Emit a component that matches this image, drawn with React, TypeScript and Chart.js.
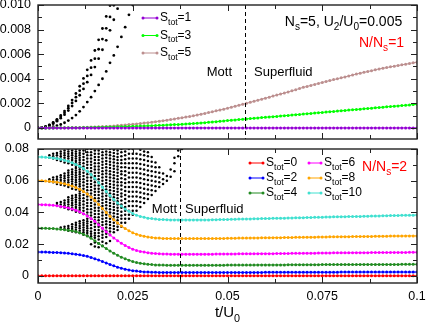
import React, { useEffect, useRef } from 'react';
import { Chart, registerables } from 'chart.js';

Chart.register(...registerables);

const FONT = '"Liberation Sans", Arial, Helvetica, sans-serif';

// x axis: time t/U0 in units of 1e-3 (index of the sample), y values in units of 1e-3
const X_TICKS = [0, 25, 50, 75, 100];
const X_LABELS = ['0', '0.025', '0.05', '0.075', '0.1'];
const TOP_Y_TICKS = [0, 2, 4, 6, 8, 10];
const TOP_Y_LABELS = ['0', '0.002', '0.004', '0.006', '0.008', '0.010'];
const BOT_Y_TICKS = [0, 20, 40, 60, 80];
const BOT_Y_LABELS = ['0', '0.02', '0.04', '0.06', '0.08'];
const TOP_Y_RANGE = [-0.9, 10];
const BOT_Y_RANGE = [-4.5, 80];
const TOP_BOUNDARY = 54.6;
const BOT_BOUNDARY = 37.5;

// ---------- top panel (N/Ns = 1) ----------
const TOP_LABELS = ['S_{tot}=1', 'S_{tot}=3', 'S_{tot}=5'];
const TOP_COLORS = ['#9400d3', '#00ff00', '#bc8f8f'];

const TOP_S1 = [
  0, 0, 0, 0, 0, 0, 0, 0, 0, 0,
  0, 0, 0, 0, 0, 0, 0, 0, 0, 0,
  0, 0, 0, 0, 0, 0, 0, 0, 0, 0,
  0, 0, 0, 0, 0, 0, 0, 0, 0, 0,
  0, 0, 0, 0, 0, 0, 0, 0, 0, 0,
  0, 0, 0, 0, 0, 0, 0, 0, 0, 0,
  0, 0, 0, 0, 0, 0, 0, 0, 0, 0,
  0, 0, 0, 0, 0, 0, 0, 0, 0, 0,
  0, 0, 0, 0, 0, 0, 0, 0, 0, 0,
  0, 0, 0, 0, 0, 0, 0, 0, 0, 0,
  0,
];
const TOP_S3 = [
  0, 0, 0, 0, 0, 0.01, 0.01, 0.01, 0.01, 0.02,
  0.02, 0.02, 0.03, 0.03, 0.04, 0.05, 0.05, 0.06, 0.07, 0.07,
  0.08, 0.09, 0.10, 0.11, 0.12, 0.13, 0.14, 0.15, 0.16, 0.17,
  0.18, 0.20, 0.21, 0.22, 0.24, 0.25, 0.27, 0.28, 0.30, 0.32,
  0.34, 0.36, 0.38, 0.41, 0.43, 0.46, 0.49, 0.51, 0.54, 0.57,
  0.60, 0.63, 0.65, 0.68, 0.71, 0.73, 0.76, 0.79, 0.81, 0.84,
  0.87, 0.89, 0.92, 0.94, 0.97, 1.00, 1.02, 1.05, 1.08, 1.10,
  1.13, 1.16, 1.18, 1.21, 1.24, 1.26, 1.29, 1.32, 1.34, 1.37,
  1.40, 1.42, 1.45, 1.48, 1.50, 1.53, 1.56, 1.58, 1.61, 1.64,
  1.66, 1.69, 1.72, 1.74, 1.77, 1.79, 1.82, 1.85, 1.87, 1.90,
  1.93,
];
const TOP_S5 = [
  0, 0, 0, 0.01, 0.01, 0.01, 0.01, 0.02, 0.02, 0.03,
  0.03, 0.04, 0.05, 0.06, 0.07, 0.08, 0.09, 0.11, 0.12, 0.14,
  0.16, 0.19, 0.21, 0.24, 0.27, 0.30, 0.33, 0.36, 0.40, 0.43,
  0.47, 0.51, 0.55, 0.59, 0.63, 0.68, 0.73, 0.78, 0.83, 0.88,
  0.93, 0.99, 1.05, 1.12, 1.18, 1.25, 1.32, 1.39, 1.46, 1.53,
  1.60, 1.68, 1.76, 1.84, 1.92, 2.00, 2.08, 2.17, 2.25, 2.34,
  2.42, 2.50, 2.59, 2.67, 2.76, 2.84, 2.93, 3.02, 3.11, 3.21,
  3.30, 3.38, 3.46, 3.54, 3.62, 3.70, 3.78, 3.85, 3.93, 4.00,
  4.08, 4.15, 4.23, 4.30, 4.38, 4.45, 4.52, 4.59, 4.66, 4.73,
  4.80, 4.86, 4.91, 4.97, 5.02, 5.08, 5.13, 5.19, 5.24, 5.30,
  5.35,
];
const TOP_BLACK_1 = [0, 0.03, 0.11, 0.25, 0.45, 0.70, 1.01, 1.37, 1.79, 2.27, 2.80, 3.39, 4.03, 4.73, 5.49, 6.30, 7.17, 8.09, 9.07, 9.95];
const TOP_BLACK_2 = [0, 0.03, 0.10, 0.23, 0.40, 0.63, 0.90, 1.23, 1.60, 2.03, 2.50, 3.03, 3.60, 4.23, 4.90, 5.63, 6.40, 7.23, 8.10, 9.03, 9.98];
const TOP_BLACK_3 = [0, 0.02, 0.09, 0.20, 0.35, 0.55, 0.79, 1.08, 1.41, 1.78, 2.20, 2.66, 3.17, 3.72, 4.31, 4.95, 5.63, 6.36, 7.13, 7.94, 8.80, 9.70];
const TOP_BLACK_4 = [0, 0.005, 0.02, 0.05, 0.10, 0.18, 0.28, 0.42, 0.60, 0.80, 1.05, 1.35, 1.70, 2.10, 2.50, 3.00, 3.50, 4.00, 4.60, 5.30, 5.90, 6.60, 7.40, 8.20, 9.20, 10.0];

// ---------- bottom panel (N/Ns = 2) ----------
const BOT_LABELS = ['S_{tot}=0', 'S_{tot}=2', 'S_{tot}=4', 'S_{tot}=6', 'S_{tot}=8', 'S_{tot}=10'];
const BOT_COLORS = ['#ff0000', '#0000ff', '#228b22', '#ff00ff', '#ffa500', '#40e0d0'];

const BOT_S0 = [
  0, 0, 0, 0, 0, 0, 0, 0, 0, 0,
  0, 0, 0, 0, 0, 0, 0, 0, 0, 0,
  0, 0, 0, 0, 0, 0, 0, 0, 0, 0,
  0, 0, 0, 0, 0, 0, 0, 0, 0, 0,
  0, 0, 0, 0, 0, 0, 0, 0, 0, 0,
  0, 0, 0, 0, 0, 0, 0, 0, 0, 0,
  0, 0, 0, 0, 0, 0, 0, 0, 0, 0,
  0, 0, 0, 0, 0, 0, 0, 0, 0, 0,
  0, 0, 0, 0, 0, 0, 0, 0, 0, 0,
  0, 0, 0, 0, 0, 0, 0, 0, 0, 0,
  0,
];
const BOT_S2 = [
  15, 15, 15, 14.9, 14.8, 14.7, 14.6, 14.4, 14.2, 13.9,
  13.6, 13.3, 12.8, 12.3, 11.6, 10.8, 10.0, 9.1, 8.1, 7.2,
  6.3, 5.5, 4.8, 4.2, 3.7, 3.3, 3.0, 2.7, 2.5, 2.4,
  2.3, 2.3, 2.2, 2.2, 2.2, 2.2, 2.2, 2.2, 2.2, 2.2,
  2.2, 2.2, 2.2, 2.2, 2.2, 2.2, 2.2, 2.2, 2.2, 2.2,
  2.2, 2.2, 2.2, 2.2, 2.2, 2.2, 2.2, 2.2, 2.2, 2.2,
  2.3, 2.3, 2.3, 2.3, 2.3, 2.3, 2.3, 2.3, 2.3, 2.3,
  2.3, 2.3, 2.3, 2.3, 2.3, 2.3, 2.3, 2.3, 2.3, 2.3,
  2.4, 2.4, 2.4, 2.4, 2.4, 2.4, 2.4, 2.4, 2.4, 2.4,
  2.4, 2.4, 2.4, 2.4, 2.4, 2.4, 2.4, 2.4, 2.4, 2.4,
  2.4,
];
const BOT_S4 = [
  30, 30, 30, 29.9, 29.8, 29.6, 29.4, 29.1, 28.8, 28.4,
  27.9, 27.2, 26.3, 25.1, 23.7, 22.1, 20.4, 18.8, 17.2, 15.7,
  14.3, 13.0, 11.8, 10.8, 9.9, 9.0, 8.4, 7.9, 7.6, 7.3,
  7.1, 6.9, 6.8, 6.8, 6.7, 6.7, 6.7, 6.7, 6.7, 6.7,
  6.7, 6.7, 6.7, 6.7, 6.7, 6.7, 6.7, 6.7, 6.7, 6.7,
  6.8, 6.8, 6.8, 6.8, 6.8, 6.8, 6.8, 6.8, 6.9, 6.9,
  6.9, 6.9, 6.9, 6.9, 6.9, 6.9, 7.0, 7.0, 7.0, 7.0,
  7.0, 7.0, 7.0, 7.0, 7.0, 7.1, 7.1, 7.1, 7.1, 7.1,
  7.1, 7.1, 7.1, 7.1, 7.1, 7.2, 7.2, 7.2, 7.2, 7.2,
  7.2, 7.2, 7.2, 7.2, 7.2, 7.2, 7.3, 7.3, 7.3, 7.3,
  7.3,
];
const BOT_S6 = [
  45, 44.9, 44.8, 44.7, 44.5, 44.2, 43.8, 43.4, 42.8, 42.1,
  41.3, 40.4, 39.2, 37.8, 36.2, 34.4, 32.2, 30.0, 27.8, 25.8,
  23.9, 22.2, 20.6, 19.2, 17.9, 16.8, 16.0, 15.4, 15.0, 14.6,
  14.3, 14.1, 13.9, 13.8, 13.8, 13.7, 13.7, 13.7, 13.7, 13.7,
  13.7, 13.7, 13.7, 13.7, 13.7, 13.7, 13.7, 13.8, 13.8, 13.8,
  13.8, 13.8, 13.8, 13.9, 13.9, 13.9, 13.9, 13.9, 14.0, 14.0,
  14.0, 14.0, 14.0, 14.1, 14.1, 14.1, 14.1, 14.2, 14.2, 14.2,
  14.3, 14.3, 14.3, 14.3, 14.4, 14.4, 14.4, 14.4, 14.5, 14.5,
  14.5, 14.5, 14.5, 14.6, 14.6, 14.6, 14.6, 14.6, 14.7, 14.7,
  14.7, 14.7, 14.7, 14.8, 14.8, 14.8, 14.8, 14.8, 14.9, 14.9,
  14.9,
];
const BOT_S8 = [
  60, 59.9, 59.8, 59.6, 59.4, 59.1, 58.6, 58.1, 57.4, 56.6,
  55.7, 54.6, 53.2, 51.6, 49.8, 47.6, 45.0, 42.5, 39.9, 37.6,
  35.4, 33.4, 31.5, 29.9, 28.4, 27.2, 26.2, 25.5, 25.0, 24.5,
  24.2, 23.9, 23.8, 23.6, 23.6, 23.5, 23.5, 23.5, 23.5, 23.5,
  23.5, 23.5, 23.5, 23.5, 23.5, 23.5, 23.5, 23.6, 23.6, 23.6,
  23.7, 23.7, 23.7, 23.8, 23.8, 23.8, 23.9, 23.9, 23.9, 24.0,
  24.0, 24.0, 24.1, 24.1, 24.1, 24.2, 24.2, 24.2, 24.3, 24.3,
  24.3, 24.4, 24.4, 24.4, 24.5, 24.5, 24.5, 24.6, 24.6, 24.6,
  24.7, 24.7, 24.7, 24.8, 24.8, 24.8, 24.9, 24.9, 24.9, 25.0,
  25.0, 25.0, 25.0, 25.1, 25.1, 25.1, 25.1, 25.2, 25.2, 25.2,
  25.2,
];
const BOT_S10 = [
  75, 74.9, 74.8, 74.6, 74.4, 74.0, 73.5, 72.9, 72.2, 71.3,
  70.3, 69.1, 67.7, 65.9, 63.9, 61.5, 58.7, 55.9, 53.2, 50.6,
  48.2, 46.0, 44.0, 42.2, 40.7, 39.3, 38.3, 37.5, 36.9, 36.4,
  36.1, 35.8, 35.6, 35.5, 35.4, 35.3, 35.3, 35.3, 35.3, 35.3,
  35.3, 35.3, 35.3, 35.3, 35.3, 35.3, 35.4, 35.4, 35.5, 35.5,
  35.6, 35.7, 35.7, 35.8, 35.8, 35.9, 35.9, 36.0, 36.0, 36.1,
  36.1, 36.2, 36.3, 36.3, 36.4, 36.4, 36.5, 36.5, 36.6, 36.6,
  36.7, 36.8, 36.8, 36.9, 36.9, 37.0, 37.1, 37.1, 37.2, 37.2,
  37.3, 37.3, 37.4, 37.4, 37.5, 37.5, 37.6, 37.6, 37.7, 37.7,
  37.8, 37.9, 37.9, 38.0, 38.0, 38.1, 38.2, 38.2, 38.3, 38.3,
  38.4,
];

// black points of the bottom panel, listed column by column: [time index, values]
const BOT_BLACK_COLS: [number, number[]][] = [
  [3, [74.5, 76, 59.5, 61]],
  [4, [74, 75.5, 77, 59, 60.5, 62]],
  [5, [73, 74.5, 76, 77.5, 58, 59.5, 61, 62.5, 44.5, 46]],
  [6, [72.5, 74, 75.5, 77, 78.5, 57.5, 59, 60.5, 62, 63.5, 43.5, 45, 46.5, 30.5]],
  [7, [71.5, 73, 74.5, 76, 77.5, 79, 57, 58.5, 60, 61.5, 63, 64.5, 43, 44.5, 46, 47.5, 29.5, 31]],
  [8, [71, 72.5, 74, 75.5, 77, 78.5, 80, 56, 57.5, 59, 60.5, 62, 63.5, 65, 66.5, 42, 43.5, 45, 46.5, 48, 49.5, 28.5, 30, 31.5]],
  [9, [70, 71.5, 73, 74.5, 76, 77.5, 79, 55, 56.5, 58, 59.5, 61, 62.5, 64, 65.5, 67, 41.5, 43, 44.5, 46, 47.5, 49, 50.5, 28, 29.5, 31, 32.5]],
  [10, [69.5, 71, 72.5, 74, 75.5, 77, 78.5, 80, 54.5, 56, 57.5, 59, 60.5, 62, 63.5, 65, 66.5, 68, 40.5, 42, 43.5, 45, 46.5, 48, 49.5, 51, 27.5, 29, 30.5, 32, 33.5]],
  [11, [53.5, 55, 56.5, 58, 59.5, 61, 62.5, 64, 65.5, 67, 68.5, 70, 71.5, 73, 74.5, 76, 77.5, 79, 40, 41.5, 43, 44.5, 46, 47.5, 49, 50.5, 52, 27, 28.5, 30, 31.5, 33, 34.5]],
  [12, [39, 41, 43, 45, 47, 49, 51, 53, 55, 57, 59, 61, 63, 65, 67, 69, 71, 73, 75, 77, 79, 26, 27.5, 29, 30.5, 32, 33.5, 35]],
  [13, [25.5, 27, 28.5, 30, 31.5, 33, 34.5, 36, 38, 40, 42, 44, 46, 48, 50, 52, 54, 56, 58, 60, 62, 64, 66, 68, 70, 72, 74, 76, 78, 80]],
  [14, [20, 25, 26.5, 28, 30, 32, 34, 36, 38, 40, 42, 44, 46, 48, 50, 52, 54, 56, 58, 60, 62, 64, 66, 68, 70, 72, 74, 76, 78, 80]],
  [15, [18.5, 21, 24, 25.5, 27, 29, 31, 33, 35, 37, 39, 41, 43, 45, 47, 49, 51, 53, 55, 57, 59, 61, 63, 65, 67, 69, 71, 73, 75, 77, 79]],
  [16, [18, 20.5, 23, 25, 27, 29, 31, 33, 35, 37, 39, 41, 43, 45, 47, 49, 51, 53, 55, 57, 59, 61, 63, 65, 67, 69, 71, 73, 75, 77, 79]],
  [17, [19, 21.5, 24, 26, 28, 30, 32, 34, 36, 38, 40, 42, 44, 46, 48, 50, 52, 54, 56, 58, 60, 62, 64, 66, 68, 70, 72, 74, 76, 78, 80]],
  [18, [20.5, 24.5, 26.5, 28.5, 30.5, 32.5, 34.5, 36.5, 38.5, 40.5, 42.5, 44.5, 46.5, 48.5, 50.5, 52.5, 54.5, 56.5, 58.5, 60.5, 62.5, 64.5, 66.5, 68.5, 70.5, 72.5, 74.5, 76.5, 78.5]],
  [19, [22, 26, 28, 30, 32, 34, 36, 38, 40, 42, 44, 46, 48, 50, 52, 54, 56, 58, 60, 62, 64, 66, 68, 70, 72, 74, 76, 78, 80]],
  [20, [27.5, 29.5, 31.5, 33.5, 35.5, 37.5, 39.5, 41.5, 43.5, 45.5, 47.5, 49.5, 51.5, 53.5, 55.5, 57.5, 59.5, 61.5, 63.5, 65.5, 67.5, 69.5, 71.5, 73.5, 75.5, 77.5, 79.5]],
  [21, [29, 31, 33, 35, 37, 39, 41, 43, 45, 47, 49, 51, 53, 55, 57, 59, 61, 63, 65, 67, 69, 71, 73, 75, 77, 79]],
  [22, [31, 33.5, 36, 38, 40.5, 43, 45, 47.5, 50, 52, 54.5, 57, 59, 61.5, 64, 66, 68.5, 71, 73, 75.5, 78, 80]],
  [23, [33.5, 36, 38.5, 41, 43.5, 46, 48.5, 51, 53.5, 56, 58.5, 61, 63.5, 66, 68.5, 71, 73.5, 76, 78.5]],
  [24, [36, 38.5, 41, 44, 47, 50, 53, 56, 59, 62, 65, 68, 71, 74, 77, 80]],
  [25, [38.5, 41, 44, 47, 50, 53, 56, 59, 62, 65, 68, 71, 74, 77, 80]],
  [26, [41, 44, 47, 50, 53, 56, 59, 62, 65, 68, 71, 74, 77]],
  [27, [43.5, 46.5, 49.5, 52.5, 55.5, 58.5, 61.5, 64.5, 67.5, 70.5, 73.5, 76.5, 79.5]],
  [28, [46, 49, 52, 55, 58, 61, 64, 67, 70, 73, 76, 78.5]],
  [29, [48.5, 51.5, 54.5, 57.5, 60.5, 63.5, 66.5, 69.5, 72.5, 75.5, 78]],
  [30, [51, 54, 57, 60, 63, 66, 69, 72, 75]],
  [31, [53.5, 56.5, 59.5, 62.5, 65.5, 68.5, 71.5]],
  [32, [56, 59, 62, 65, 68.5]],
  [33, [58, 61, 64.5]],
  [34, [60, 63]],
  [35, [62.5, 67]],
  [36, [66, 71, 74.5]],
  [37, [75.5, 79]],
  [38, [80]],
];

type Pt = { x: number; y: number };
const toPts = (vals: number[]): Pt[] => vals.map((v, i) => ({ x: i, y: v }));

type Part = { t: string; sub: boolean };
function parseRich(s: string): Part[] {
  const parts: Part[] = [];
  const re = /_\{([^}]*)\}/g;
  let last = 0;
  let m: RegExpExecArray | null;
  while ((m = re.exec(s))) {
    if (m.index > last) parts.push({ t: s.slice(last, m.index), sub: false });
    parts.push({ t: m[1], sub: true });
    last = m.index + m[0].length;
  }
  if (last < s.length) parts.push({ t: s.slice(last), sub: false });
  return parts;
}
function drawRich(ctx: CanvasRenderingContext2D, s: string, x: number, y: number, size: number, color: string, align: 'left' | 'right' | 'center') {
  const parts = parseRich(s);
  const sub = size * 0.72;
  const f = (p: Part) => `${p.sub ? sub : size}px ${FONT}`;
  let w = 0;
  for (const p of parts) {
    ctx.font = f(p);
    w += ctx.measureText(p.t).width;
  }
  let cx = align === 'left' ? x : align === 'right' ? x - w : x - w / 2;
  ctx.fillStyle = color;
  ctx.textBaseline = 'middle';
  ctx.textAlign = 'left';
  for (const p of parts) {
    ctx.font = f(p);
    ctx.fillText(p.t, cx, p.sub ? y + size * 0.38 : y);
    cx += ctx.measureText(p.t).width;
  }
}

type Txt = { text: string; x: number; y: number; align: 'left' | 'right' | 'center'; color: string; size: number };
type Leg = { label: string; color: string; x0: number; x1: number; y: number };

function makeDecor(cfg: { yTicks: number[]; boundary: number; texts: Txt[]; legend: Leg[]; xTitle: boolean }) {
  return {
    id: 'decor',
    afterDatasetsDraw(chart: any) {
      const { ctx, chartArea: a, scales } = chart;
      const xs = scales.x;
      const ys = scales.y;
      ctx.save();
      // phase boundary
      const bx = Math.round(xs.getPixelForValue(cfg.boundary)) + 0.5;
      ctx.beginPath();
      ctx.setLineDash([4, 3]);
      ctx.strokeStyle = '#000';
      ctx.lineWidth = 1;
      ctx.moveTo(bx, a.top);
      ctx.lineTo(bx, a.bottom);
      ctx.stroke();
      ctx.setLineDash([]);
      // inward ticks on all sides
      ctx.strokeStyle = '#222';
      ctx.lineWidth = 1;
      const seg = (x0: number, y0: number, x1: number, y1: number) => {
        ctx.beginPath();
        ctx.moveTo(x0, y0);
        ctx.lineTo(x1, y1);
        ctx.stroke();
      };
      const xTick = (v: number, len: number) => {
        const p = Math.round(xs.getPixelForValue(v)) + 0.5;
        seg(p, a.bottom, p, a.bottom - len);
        seg(p, a.top, p, a.top + len);
      };
      const yTick = (v: number, len: number) => {
        const p = Math.round(ys.getPixelForValue(v)) + 0.5;
        seg(a.left, p, a.left + len, p);
        seg(a.right, p, a.right - len, p);
      };
      X_TICKS.forEach((v, k) => {
        xTick(v, 6);
        if (k < X_TICKS.length - 1) xTick((v + X_TICKS[k + 1]) / 2, 4);
      });
      cfg.yTicks.forEach((v, k) => {
        yTick(v, 6);
        if (k < cfg.yTicks.length - 1) yTick((v + cfg.yTicks[k + 1]) / 2, 4);
      });
      // frame
      ctx.strokeStyle = '#222';
      ctx.lineWidth = 1.4;
      ctx.strokeRect(a.left, a.top, a.right - a.left, a.bottom - a.top);
      // annotations
      for (const t of cfg.texts) {
        drawRich(ctx, t.text, xs.getPixelForValue(t.x), ys.getPixelForValue(t.y), t.size, t.color, t.align);
      }
      // legend
      for (const l of cfg.legend) {
        ctx.strokeStyle = l.color;
        ctx.fillStyle = l.color;
        ctx.lineWidth = 1;
        seg(l.x0, l.y, l.x1, l.y);
        for (const px of [l.x0, l.x1]) {
          ctx.beginPath();
          ctx.arc(px, l.y, 1.5, 0, Math.PI * 2);
          ctx.fill();
        }
        drawRich(ctx, l.label, l.x1 + 3, l.y, 12, '#000', 'left');
      }
      if (cfg.xTitle) {
        drawRich(ctx, 't/U_{0}', (a.left + a.right) / 2, 313, 15, '#000', 'center');
      }
      ctx.restore();
    },
  };
}

function lineDs(label: string, vals: number[], color: string) {
  return {
    label,
    data: toPts(vals),
    showLine: true,
    borderColor: color,
    backgroundColor: color,
    borderWidth: 1,
    pointRadius: 1.5,
    pointBorderWidth: 0,
    pointBackgroundColor: color,
    order: 0,
  };
}
function dotDs(label: string, pts: Pt[], r: number) {
  return {
    label,
    data: pts,
    showLine: false,
    borderColor: '#000',
    backgroundColor: '#000',
    pointRadius: r,
    pointBorderWidth: 0,
    pointBackgroundColor: '#000',
    order: 1,
  };
}

function yScale(range: number[], ticks: number[], labels: string[], pad: number) {
  return {
    type: 'linear',
    min: range[0],
    max: range[1],
    grid: { display: false, drawTicks: false },
    border: { display: false },
    ticks: {
      font: { family: FONT, size: 12.5 },
      color: '#000',
      padding: pad,
      callback: (_v: any, i: number) => labels[i],
    },
    afterBuildTicks: (s: any) => {
      s.ticks = ticks.map((v) => ({ value: v }));
    },
    afterFit: (s: any) => {
      s.width = 38;
      s.paddingTop = 0;
      s.paddingBottom = 0;
    },
  };
}

function topConfig(): any {
  const datasets = [
    ...[TOP_S1, TOP_S3, TOP_S5].map((v, k) => lineDs(TOP_LABELS[k], v, TOP_COLORS[k])),
    ...[TOP_BLACK_1, TOP_BLACK_2, TOP_BLACK_3, TOP_BLACK_4].map((v, k) => dotDs('other ' + k, toPts(v), 1.4)),
  ];
  const decor = makeDecor({
    yTicks: TOP_Y_TICKS,
    boundary: TOP_BOUNDARY,
    texts: [
      { text: 'Mott', x: 51.2, y: 4.5, align: 'right', color: '#000', size: 13 },
      { text: 'Superfluid', x: 57, y: 4.5, align: 'left', color: '#000', size: 13 },
      { text: 'N_{s}=5, U_{2}/U_{0}=0.005', x: 96.1, y: 8.6, align: 'right', color: '#000', size: 14 },
      { text: 'N/N_{s}=1', x: 96.6, y: 6.9, align: 'right', color: '#ff0000', size: 14 },
    ],
    legend: TOP_LABELS.map((label, k) => ({ label, color: TOP_COLORS[k], x0: 143, x1: 157, y: 18 + k * 17.5 })),
    xTitle: false,
  });
  return {
    type: 'scatter',
    data: { datasets },
    options: {
      animation: false,
      responsive: false,
      devicePixelRatio: 1,
      events: [],
      layout: { autoPadding: false, padding: { left: 0, top: 5, right: 9, bottom: 188 } },
      plugins: { legend: { display: false }, tooltip: { enabled: false } },
      scales: {
        x: {
          type: 'linear',
          min: 0,
          max: 100,
          display: false,
          afterBuildTicks: (s: any) => {
            s.ticks = X_TICKS.map((v) => ({ value: v }));
          },
        },
        y: yScale(TOP_Y_RANGE, TOP_Y_TICKS, TOP_Y_LABELS, 7),
      },
    },
    plugins: [decor],
  };
}

function botConfig(): any {
  const blackPts: Pt[] = BOT_BLACK_COLS.flatMap(([i, vs]) => vs.map((v) => ({ x: i, y: v })));
  const datasets = [
    ...[BOT_S0, BOT_S2, BOT_S4, BOT_S6, BOT_S8, BOT_S10].map((v, k) => lineDs(BOT_LABELS[k], v, BOT_COLORS[k])),
    dotDs('other', blackPts, 1.25),
  ];
  const legend = BOT_LABELS.map((label, k) => ({
    label,
    color: BOT_COLORS[k],
    x0: k < 3 ? 250 : 309,
    x1: k < 3 ? 263 : 321,
    y: 163 + (k % 3) * 15,
  }));
  const decor = makeDecor({
    yTicks: BOT_Y_TICKS,
    boundary: BOT_BOUNDARY,
    texts: [
      { text: 'Mott', x: 36.7, y: 42.2, align: 'right', color: '#000', size: 13 },
      { text: 'Superfluid', x: 38.8, y: 42.2, align: 'left', color: '#000', size: 13 },
      { text: 'N/N_{s}=2', x: 97.4, y: 68.7, align: 'right', color: '#ff0000', size: 14 },
    ],
    legend,
    xTitle: true,
  });
  return {
    type: 'scatter',
    data: { datasets },
    options: {
      animation: false,
      responsive: false,
      devicePixelRatio: 1,
      events: [],
      layout: { autoPadding: false, padding: { left: 0, top: 149, right: 9, bottom: 0 } },
      plugins: { legend: { display: false }, tooltip: { enabled: false } },
      scales: {
        x: {
          type: 'linear',
          min: 0,
          max: 100,
          grid: { display: false, drawTicks: false },
          border: { display: false },
          ticks: {
            font: { family: FONT, size: 12.5 },
            color: '#000',
            padding: 6,
            maxRotation: 0,
            autoSkip: false,
            callback: (_v: any, i: number) => X_LABELS[i],
          },
          afterBuildTicks: (s: any) => {
            s.ticks = X_TICKS.map((v) => ({ value: v }));
          },
          afterFit: (s: any) => {
            s.height = 44;
            s.paddingLeft = 0;
            s.paddingRight = 0;
          },
        },
        y: yScale(BOT_Y_RANGE, BOT_Y_TICKS, BOT_Y_LABELS, 9),
      },
    },
    plugins: [decor],
  };
}

export default function App() {
  const topRef = useRef<HTMLCanvasElement>(null);
  const botRef = useRef<HTMLCanvasElement>(null);
  useEffect(() => {
    const c1 = new Chart(topRef.current as HTMLCanvasElement, topConfig());
    const c2 = new Chart(botRef.current as HTMLCanvasElement, botConfig());
    return () => {
      c1.destroy();
      c2.destroy();
    };
  }, []);
  return (
    <div style={{ position: 'fixed', left: 0, top: 0, width: 426, height: 327, background: '#fff' }}>
      <canvas ref={topRef} width={426} height={327} style={{ position: 'absolute', left: 0, top: 0 }} />
      <canvas ref={botRef} width={426} height={327} style={{ position: 'absolute', left: 0, top: 0 }} />
    </div>
  );
}
